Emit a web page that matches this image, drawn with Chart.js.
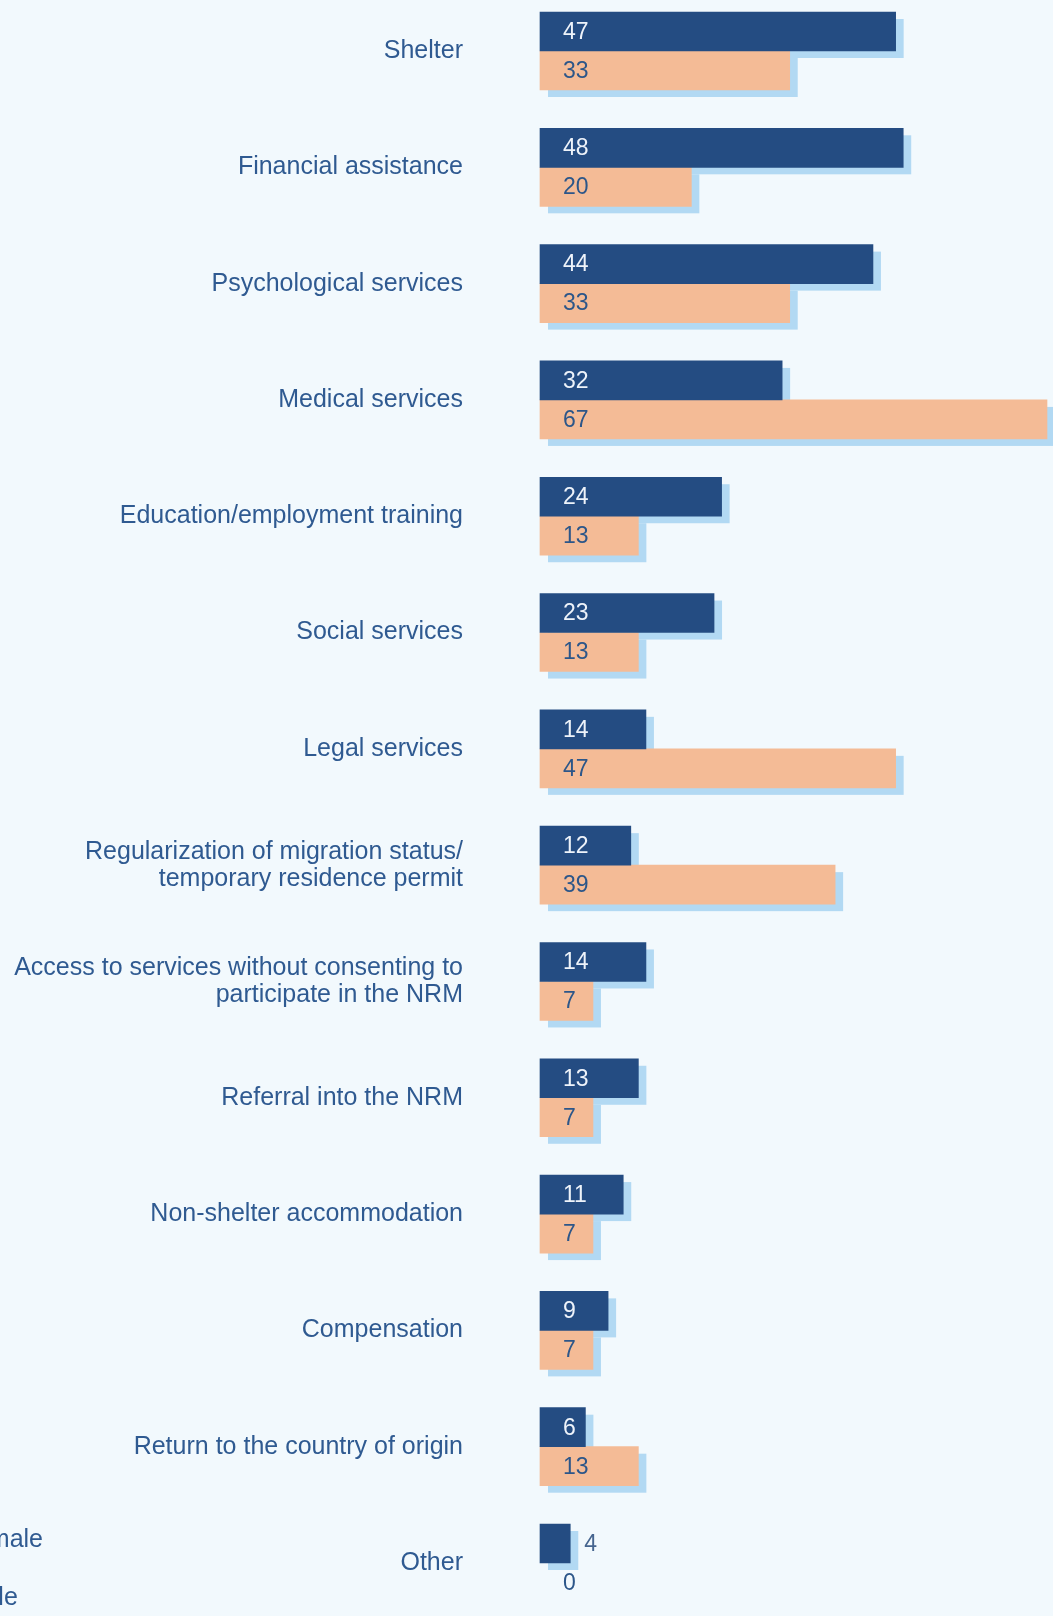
<!DOCTYPE html>
<html>
<head>
<meta charset="utf-8">
<title>Services received</title>
<script src="https://cdn.jsdelivr.net/npm/chart.js@4.4.1/dist/chart.umd.min.js"></script>
<style>
  html, body { margin: 0; padding: 0; background: #f2f9fd; }
  #wrap { position: relative; width: 1053px; height: 1616px; overflow: hidden; }
</style>
</head>
<body>
<div id="wrap"><canvas id="servicesChart"></canvas></div>
<script>
// Categorias (rótulos do eixo y) e valores das duas séries
const categorias = [
    'Shelter',
    'Financial assistance',
    'Psychological services',
    'Medical services',
    'Education/employment training',
    'Social services',
    'Legal services',
    ['Regularization of migration status/', 'temporary residence permit'],
    ['Access to services without consenting to', 'participate in the NRM'],
    'Referral into the NRM',
    'Non-shelter accommodation',
    'Compensation',
    'Return to the country of origin',
    'Other'
];
const valoresFemale = [47, 48, 44, 32, 24, 23, 14, 12, 14, 13, 11, 9, 6, 4];
const valoresMale = [33, 20, 33, 67, 13, 13, 47, 39, 7, 7, 7, 7, 13, 0];
const legendaNomes = ['Female', 'Male'];

const corNavy = '#244c82';
const corLaranja = '#f4bb96';
const corSombra = '#b2d9f3';
const corTexto = '#2f5a91';
const fonte = '"Liberation Sans", Arial, sans-serif';

// Sombra azul clara deslocada atrás de cada barra
const sombraBarras = {
    id: 'sombraBarras',
    beforeDatasetsDraw(chart) {
        const ctx = chart.ctx;
        ctx.save();
        ctx.fillStyle = corSombra;
        chart.data.datasets.forEach((ds, i) => {
            chart.getDatasetMeta(i).data.forEach(bar => {
                const p = bar.getProps(['x', 'y', 'base', 'height'], true);
                const w = p.x - p.base;
                if (w > 0) ctx.fillRect(p.base + 8, p.y - p.height / 2 + 7, w, p.height);
            });
        });
        ctx.restore();
    }
};

// Valores escritos dentro da barra (ou logo depois, se não couber)
const rotulosValores = {
    id: 'rotulosValores',
    afterDatasetsDraw(chart) {
        const ctx = chart.ctx;
        ctx.save();
        ctx.font = '23px ' + fonte;
        ctx.textBaseline = 'middle';
        ctx.textAlign = 'left';
        chart.data.datasets.forEach((ds, i) => {
            chart.getDatasetMeta(i).data.forEach((bar, j) => {
                const p = bar.getProps(['x', 'y', 'base'], true);
                const txt = String(ds.data[j]);
                const tw = ctx.measureText(txt).width;
                const dentro = (p.x - p.base) >= 23 + tw + 5;
                if (dentro) {
                    ctx.fillStyle = ds.labelColor;
                    ctx.fillText(txt, p.base + 23, p.y + 1);
                } else {
                    ctx.fillStyle = ds.data[j] === 0 ? ds.labelColor : '#46658f';
                    ctx.fillText(txt, Math.max(p.x + 14, p.base + 23), p.y + 1);
                }
            });
        });
        ctx.restore();
    }
};

// Legenda no canto inferior esquerdo (parte fica fora da área visível)
const legendaTexto = {
    id: 'legendaTexto',
    afterDraw(chart) {
        const ctx = chart.ctx;
        ctx.save();
        ctx.font = '25px ' + fonte;
        ctx.fillStyle = corTexto;
        ctx.textBaseline = 'alphabetic';
        ctx.textAlign = 'left';
        const x0 = 43 - ctx.measureText(legendaNomes[0]).width;
        ctx.fillText(legendaNomes[0], x0, 1547);
        ctx.fillText(legendaNomes[1], x0 + 4, 1605);
        ctx.restore();
    }
};

const ctx = document.getElementById('servicesChart').getContext('2d');
const servicesChart = new Chart(ctx, {
    type: 'bar',
    data: {
        labels: categorias,
        datasets: [
            {
                label: legendaNomes[0],
                data: valoresFemale,
                backgroundColor: corNavy,
                labelColor: '#eef3fa',
                borderWidth: 0,
                barThickness: 39,
                clip: false
            },
            {
                label: legendaNomes[1],
                data: valoresMale,
                // barra de valor zero fica invisível
                backgroundColor: c => (c.raw === 0 ? 'rgba(0,0,0,0)' : corLaranja),
                labelColor: '#2c5689',
                borderWidth: 0,
                barThickness: 39,
                clip: false
            }
        ]
    },
    options: {
        indexAxis: 'y',
        responsive: true,
        maintainAspectRatio: false,
        animation: false,
        layout: { padding: { top: 51, bottom: 53, left: 0, right: 6 } },
        plugins: {
            legend: { display: false },
            tooltip: { enabled: false }
        },
        scales: {
            x: {
                display: false,
                min: 0,
                max: 67
            },
            y: {
                offset: false,
                // tickLength só afasta os rótulos das barras; as marcas não são desenhadas
                grid: { display: false, drawTicks: true, tickLength: 77 },
                border: { display: false },
                ticks: {
                    autoSkip: false,
                    padding: 0,
                    color: corTexto,
                    font: { family: fonte, size: 25, lineHeight: 1.08 }
                },
                afterFit(scale) { scale.width = 540; }
            }
        }
    },
    plugins: [sombraBarras, rotulosValores, legendaTexto]
});
</script>
</body>
</html>
